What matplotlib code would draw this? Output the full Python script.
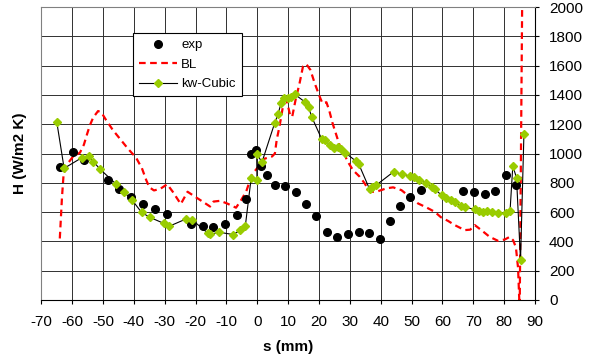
import matplotlib.pyplot as plt

plt.rcParams['font.family'] = ['Liberation Sans', 'DejaVu Sans']
plt.rcParams['axes.unicode_minus'] = False

# measured heat transfer coefficient
exp_s = [-63.8, -59.8, -56.0, -48.4, -44.7, -40.9, -37.0, -33.2, -29.4, -21.6,
         -17.7, -14.2, -10.4, -6.6, -3.8, -2.2, -0.3, 1.3, 3.1, 5.6, 8.9, 12.4,
         15.7, 19.1, 22.7, 25.9, 29.4, 32.8, 36.2, 39.7, 42.9, 46.4, 49.6, 53.1,
         66.7, 70.2, 73.7, 77.0, 80.5, 83.8]
exp_h = [910, 1012, 955, 819, 755, 700, 652, 618, 586, 522,
         506, 499, 517, 577, 687, 1000, 1027, 915, 855, 782, 776, 735,
         655, 570, 463, 429, 448, 461, 454, 414, 538, 639, 706, 748,
         741, 735, 725, 743, 855, 787]

# boundary layer prediction
bl_s = [-64.0, -63.3, -62.8, -61.5, -59.5, -57.5, -56.2, -55.2, -54.3, -53.2,
        -51.6, -50.5, -49.2, -46.8, -44.3, -41.8, -39.3, -37.4, -36.0, -35.0,
        -33.5, -31.5, -29.2, -27.4, -24.8, -22.6, -20.1, -17.6, -15.3, -14.2,
        -12.0, -9.8, -6.9, -5.3, -3.6, -1.8, 0.5, 2.4, 4.8, 5.7,
        6.3, 7.2, 8.3, 9.1, 10.6, 11.3, 12.4, 13.7, 14.8, 15.9,
        17.2, 18.6, 20.2, 21.1, 22.4, 23.3, 24.4, 25.6, 26.8, 28.3,
        29.0, 31.0, 33.2, 34.8, 36.4, 38.6, 41.8, 44.0, 46.7, 49.4,
        52.1, 54.8, 57.5, 59.5, 61.8, 64.0, 67.2, 69.0, 70.5, 72.6,
        75.3, 78.0, 80.2, 81.8, 82.9, 83.8, 84.5, 84.9, 85.0, 85.9]
bl_h = [420, 700, 850, 930, 985, 1005, 1060, 1130, 1190, 1245,
        1290, 1280, 1235, 1160, 1095, 1030, 972, 900, 819, 770,
        748, 758, 790, 739, 655, 739, 704, 670, 638, 672,
        677, 659, 630, 680, 740, 853, 915, 965, 980, 1000,
        1095, 1185, 1320, 1400, 1265, 1250, 1366, 1480, 1594, 1610,
        1571, 1480, 1389, 1343, 1350, 1295, 1206, 1127, 1047, 1000,
        955, 887, 841, 796, 739, 739, 762, 769, 750, 704,
        659, 632, 602, 565, 540, 511, 477, 480, 511, 477,
        431, 404, 413, 431, 408, 360, 220, 0, -150, 2200]

# kw-Cubic model
kw_s = [-65.0, -62.6, -56.9, -54.7, -53.1, -50.9, -45.9, -43.2, -40.5, -37.5,
        -34.8, -30.3, -28.6, -23.2, -21.0, -16.0, -15.2, -12.5, -7.9, -5.5,
        -3.9, -2.0, -0.1, -0.2, 1.5, 5.6, 6.7, 7.7, 8.6, 9.9,
        10.8, 12.1, 15.3, 16.6, 17.7, 20.9, 22.1, 23.4, 24.8, 26.1,
        27.2, 28.5, 32.1, 32.9, 36.4, 37.2, 38.6, 44.2, 46.8, 49.5,
        50.8, 52.4, 54.8, 56.5, 57.6, 59.8, 61.2, 62.9, 64.0, 66.1,
        67.2, 70.5, 71.9, 73.2, 74.5, 75.9, 78.0, 80.5, 81.9, 82.8,
        84.0, 85.3, 86.4]
kw_h = [1218, 899, 971, 984, 944, 892, 794, 737, 680, 598,
        564, 523, 503, 552, 545, 456, 448, 463, 447, 475,
        502, 830, 821, 1000, 940, 1206, 1268, 1343, 1377, 1377,
        1389, 1405, 1354, 1316, 1247, 1097, 1092, 1058, 1040, 1047,
        1028, 1005, 946, 927, 756, 769, 785, 876, 859, 847,
        839, 819, 798, 773, 755, 714, 699, 682, 670, 641,
        632, 620, 609, 602, 605, 602, 596, 591, 607, 915,
        834, 272, 1131]

fig = plt.figure(figsize=(5.95, 3.63), dpi=100)
ax = fig.add_axes([0.0694, 0.1736, 0.8298, 0.807])

ax.plot(exp_s, exp_h, 'o', color='black', markersize=5.5, label='exp', zorder=4)
ax.plot(bl_s, bl_h, color='#ff0000', linewidth=1.6, dashes=(3, 2), label='BL', zorder=3)
ax.plot(kw_s, kw_h, '-', color='black', linewidth=0.8, marker='D', markersize=4.2,
        markerfacecolor='#99cc00', markeredgecolor='#99cc00', label='kw-Cubic', zorder=5)

ax.set_xlim(-70, 90)
ax.set_ylim(0, 2000)
ax.set_xticks(range(-70, 91, 10))
ax.set_yticks(range(0, 2001, 200))
ax.grid(True, color='#303030', linewidth=0.7)
ax.set_axisbelow(True)

ax.yaxis.tick_right()
ax.tick_params(axis='y', direction='out', length=3, width=0.8, pad=7, labelsize=11)
ax.tick_params(axis='x', direction='out', length=3, width=0.8, pad=8, labelsize=11)
for side in ['left', 'top']:
    ax.spines[side].set_color('#808080')
for side in ['right', 'bottom']:
    ax.spines[side].set_color('black')

ax.set_xlabel('s (mm)', fontsize=11, fontweight='bold')
ax.set_ylabel('H (W/m2 K)', fontsize=11, fontweight='bold')
ax.yaxis.set_label_position('left')
ax.yaxis.set_label_coords(-0.028, 0.5)
ax.xaxis.set_label_coords(0.5, -0.135)

leg = ax.legend(loc='upper left', bbox_to_anchor=(0.186, 0.911), fontsize=9.5,
                frameon=True, fancybox=False, handlelength=2.9, handletextpad=0.3,
                labelspacing=0.55, borderpad=0.45, borderaxespad=0)
leg.get_frame().set_edgecolor('black')
leg.get_frame().set_linewidth(0.8)
leg.get_frame().set_alpha(1)

fig.savefig('out.png', dpi=100)
